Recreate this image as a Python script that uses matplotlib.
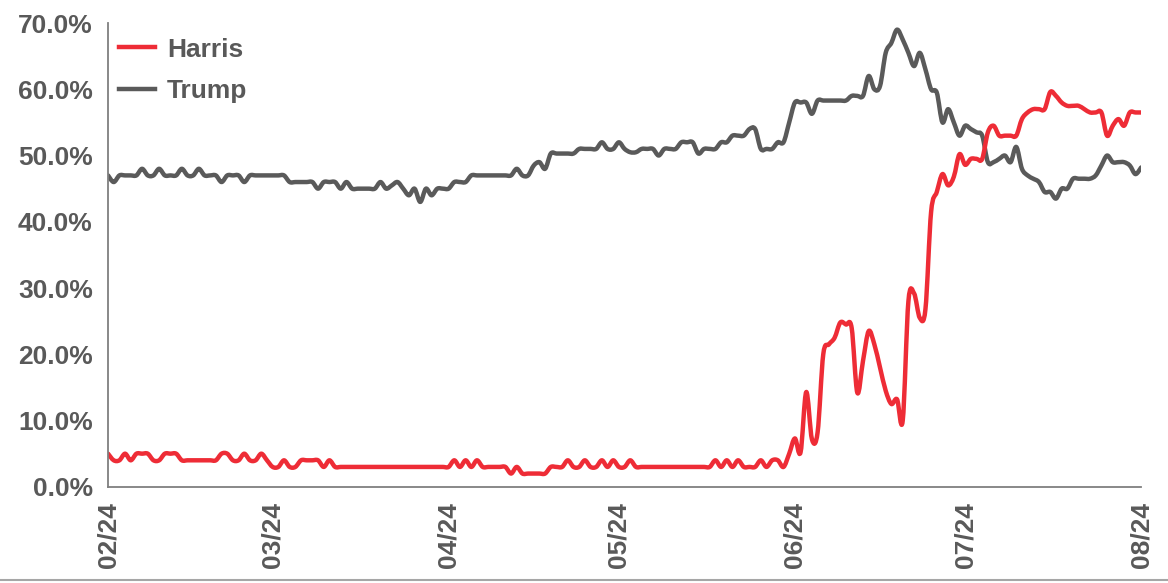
import matplotlib
matplotlib.use('Agg')
import matplotlib.pyplot as plt
import matplotlib.dates as mdates
import numpy as np
import pandas as pd
from matplotlib.path import Path
from matplotlib.patches import PathPatch
from matplotlib.lines import Line2D
from matplotlib.ticker import PercentFormatter, MultipleLocator

plt.rcParams['font.family'] = ['Liberation Sans', 'DejaVu Sans']

# daily odds, 1 Feb 2024 .. 1 Aug 2024 (percent)
dates = pd.date_range('2024-02-01', '2024-08-01', freq='D')

harris = [
    # Feb
    5, 4, 4, 5, 4, 5, 5, 5, 4, 4, 5, 5, 5, 4, 4, 4, 4, 4, 4, 4,
    5, 5, 4, 4, 5, 4, 4, 5, 4,
    # Mar
    3, 3, 4, 3, 3, 4, 4, 4, 4, 3, 4, 3, 3, 3, 3, 3, 3, 3, 3, 3,
    3, 3, 3, 3, 3, 3, 3, 3, 3, 3, 3,
    # Apr
    3, 4, 3, 4, 3, 4, 3, 3, 3, 3, 3, 2, 3, 2, 2, 2, 2, 2, 3, 3,
    3, 4, 3, 3, 4, 3, 3, 4, 3, 4,
    # May
    3, 3, 4, 3, 3, 3, 3, 3, 3, 3, 3, 3, 3, 3, 3, 3, 3, 4, 3, 4,
    3, 4, 3, 3, 3, 4, 3, 4, 4, 3, 5,
    # Jun
    7.3, 5.2, 14.3, 7.2, 8.2, 20, 21.5, 22.5, 24.8, 24.5, 24, 14.2, 19, 23.5, 21.5,
    18, 14.5, 12.5, 13.2, 10, 28, 29.2, 25.5, 26.8, 41.5, 44.5, 47.2, 45.5, 46.8, 50.2,
    # Jul
    48.6, 49.5, 49.5, 49.5, 53.5, 54.5, 53, 53, 53, 53, 55.5, 56.5, 57, 57, 57,
    59.6, 59, 58, 57.5, 57.5, 57.5, 57, 56.5, 56.5, 56.5, 53, 54.5, 55.5, 54.5, 56.5,
    56.5,
    # Aug
    56.5,
]

trump = [
    # Feb
    47, 46, 47, 47, 47, 47, 48, 47, 47, 48, 47, 47, 47, 48, 47, 47, 48, 47, 47, 47,
    46, 47, 47, 47, 46, 47, 47, 47, 47,
    # Mar
    47, 47, 47, 46, 46, 46, 46, 46, 45, 46, 46, 46, 45, 46, 45, 45, 45, 45, 45, 46,
    45, 45.5, 46, 45, 44, 45, 43, 45, 44, 45, 45,
    # Apr
    45, 46, 46, 46, 47, 47, 47, 47, 47, 47, 47, 47, 48, 47, 47, 48.5, 49, 48, 50.3, 50.3,
    50.3, 50.3, 50.3, 51, 51, 51, 51, 52, 51, 51,
    # May
    52, 51, 50.5, 50.5, 51, 51, 51, 50, 51, 51, 51, 52, 52, 52, 50.3, 51, 51, 51, 52, 52,
    53, 53, 53, 54, 54, 51, 51, 51, 52, 52, 55,
    # Jun
    58, 58, 58, 56.3, 58.3, 58.3, 58.3, 58.3, 58.3, 58.3, 59, 59, 59, 62, 60,
    60.5, 65.5, 67, 69, 67.5, 65.5, 63.5, 65.5, 63, 60, 59.5, 55, 57, 55, 53,
    # Jul
    54.5, 54, 53.5, 53, 49, 49, 49.5, 50, 49, 51.3, 48, 47, 46.5, 46, 44.5,
    44.5, 43.5, 45, 45, 46.5, 46.5, 46.5, 46.5, 47, 48.5, 50, 49, 49, 49, 48.5,
    47.2,
    # Aug
    48.2,
]

RED = '#EE2C36'
GREY = '#5A5A5A'
TEXT = '#595959'


def smooth_path(x, y):
    # Catmull-Rom curve through the daily points, written as cubic Bezier segments
    pts = np.column_stack([x, y])
    ext = np.vstack([pts[0], pts, pts[-1]])
    verts = [pts[0]]
    codes = [Path.MOVETO]
    for i in range(1, len(ext) - 2):
        p0, p1, p2, p3 = ext[i - 1], ext[i], ext[i + 1], ext[i + 2]
        c1 = p1 + (p2 - p0) / 6.0
        c2 = p2 - (p3 - p1) / 6.0
        verts += [c1, c2, p2]
        codes += [Path.CURVE4] * 3
    return Path(verts, codes)


xnum = mdates.date2num(dates)

fig = plt.figure(figsize=(11.68, 5.83), dpi=100)
ax = fig.add_axes([0.0925, 0.165, 0.8845, 0.7955])

for vals, col in [(trump, GREY), (harris, RED)]:
    path = smooth_path(xnum, np.array(vals) / 100.0)
    ax.add_patch(PathPatch(path, fill=False, edgecolor=col, lw=3.2,
                           joinstyle='round', capstyle='round'))

ax.set_xlim(xnum[0], xnum[-1])
ax.set_ylim(0, 0.70)
ax.yaxis.set_major_locator(MultipleLocator(0.10))
ax.yaxis.set_major_formatter(PercentFormatter(1.0, decimals=1))
ax.xaxis.set_major_locator(mdates.MonthLocator())
ax.xaxis.set_major_formatter(mdates.DateFormatter('%m/%y'))

for lbl in ax.get_xticklabels():
    lbl.set_rotation(90)
ax.tick_params(axis='both', length=0, labelsize=19, labelcolor=TEXT)
ax.tick_params(axis='y', pad=11)
ax.tick_params(axis='x', pad=11)
for lbl in ax.get_xticklabels() + ax.get_yticklabels():
    lbl.set_fontweight('bold')

for side in ['top', 'right']:
    ax.spines[side].set_visible(False)
for side in ['left', 'bottom']:
    ax.spines[side].set_color('#7F7F7F')
    ax.spines[side].set_linewidth(1.3)

handles = [Line2D([], [], color=RED, lw=3.2), Line2D([], [], color=GREY, lw=3.2)]
leg = ax.legend(handles, ['Harris', 'Trump'], loc='upper left',
                bbox_to_anchor=(-0.012, 1.02), frameon=False,
                handlelength=1.35, handletextpad=0.45, labelspacing=0.68,
                prop={'size': 19, 'weight': 'bold'})
for t in leg.get_texts():
    t.set_color(TEXT)

fig.add_artist(Line2D([0, 1], [0.005, 0.005], color='#A6A6A6', lw=1.5))

fig.savefig('out.png', dpi=100)
